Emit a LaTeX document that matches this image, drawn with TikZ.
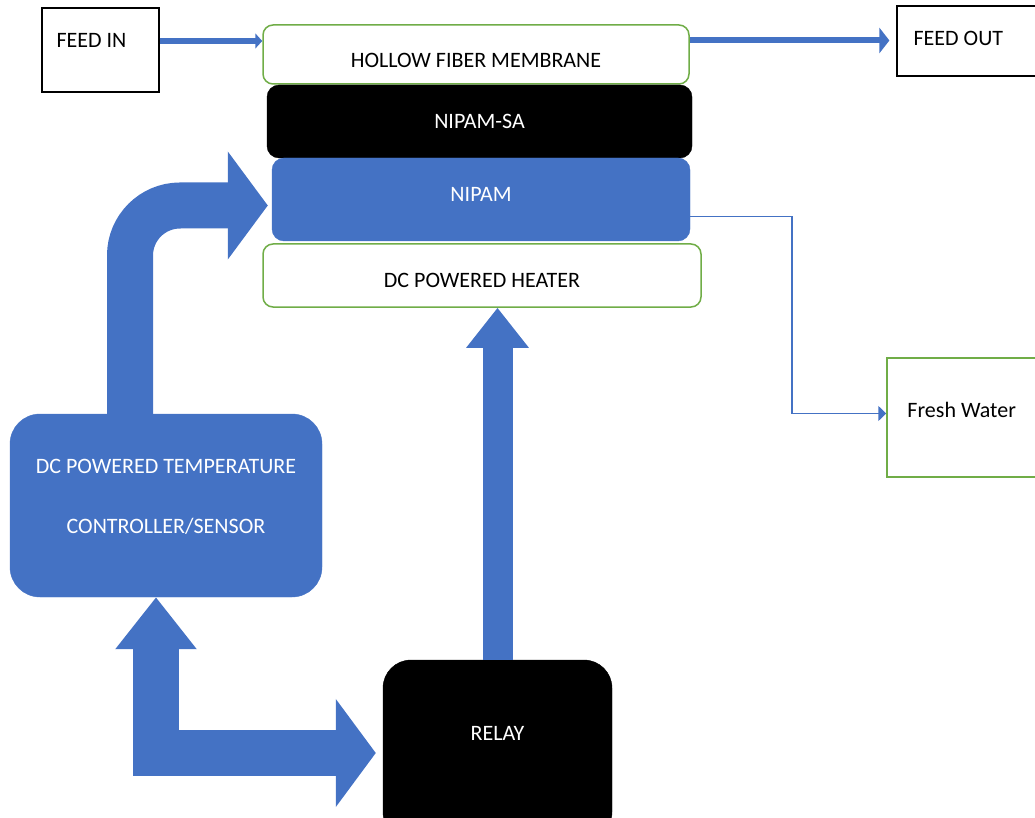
\documentclass[tikz,border=0pt]{standalone}
\usepackage{fontspec}
\setmainfont{Carlito}
\usepackage{xcolor}
\usetikzlibrary{arrows.meta,positioning,calc}
\definecolor{offblue}{HTML}{4472C4}
\definecolor{offgreen}{HTML}{70AD47}

\begin{document}
\begin{tikzpicture}[x=1pt,y=-1pt,
  every node/.style={font=\fontsize{22}{26}\selectfont},
  every label/.style={inner sep=0pt},
  greenbox/.style={draw=offgreen,line width=1.5pt,rounded corners=10pt,fill=white},
  blackbox/.style={draw=black,fill=black,rounded corners=12pt,text=white},
  bluebox/.style={draw=offblue,fill=offblue,rounded corners=12pt,text=white},
  plainbox/.style={draw=black,line width=1.2pt},
  feedline/.style={draw=offblue,line width=6pt},
  thinline/.style={draw=offblue,line width=1.6pt,-{Triangle[length=8pt,width=15pt]}},
  blockline/.style={draw=offblue,line width=46pt}]
\path[use as bounding box,clip] (0,0) rectangle (1035,818);
% membrane stack
\node[greenbox,minimum width=426pt,minimum height=59pt,text height=26pt] (hfm) at (476,54.5) {HOLLOW FIBER MEMBRANE};
\node[blackbox,minimum width=425pt,minimum height=73pt] (nipamsa) at (479.5,121.5) {NIPAM-SA};
\node[bluebox,minimum width=418pt,minimum height=83pt,text depth=10pt] (nipam) at (481,199.5) {NIPAM};
\node[greenbox,minimum width=438pt,minimum height=63pt,text height=24pt] (heater) at (482,275.5) {DC POWERED HEATER};
% feed and product boxes
\node[plainbox,minimum width=117pt,minimum height=84pt,
  label={[anchor=west,xshift=15pt,yshift=10pt]west:FEED IN}] (feedin) at (100.5,50) {};
\node[plainbox,minimum width=148pt,minimum height=70pt,
  label={[anchor=west,xshift=17pt,yshift=3pt]west:FEED OUT}] (feedout) at (971,41) {};
\node[draw=offgreen,line width=1.5pt,minimum width=158pt,minimum height=119pt,
  label={[anchor=west,xshift=21pt,yshift=8pt]west:Fresh Water}] (fresh) at (966,417.5) {};
% control loop
\node[bluebox,rounded corners=30pt,minimum width=312pt,minimum height=183pt,
  label={[text=white,align=center,yshift=8.5pt,font=\fontsize{22}{60}\selectfont]center:DC POWERED TEMPERATURE\\CONTROLLER/SENSOR}] (ctrl) at (166,505.5) {};
\node[blackbox,rounded corners=28pt,minimum width=229pt,minimum height=180pt,
  label={[text=white,yshift=17pt]center:RELAY}] (relay) at (497.5,750) {};
% feed flow
\coordinate (fin) at ([yshift=9pt]feedin.east);
\coordinate (fout) at ([yshift=14pt]hfm.east);
\draw[feedline,-{Triangle[length=7pt,width=15pt]}] (fin) -- (fin -| hfm.west);
\draw[feedline,-{Triangle[length=10pt,width=25pt]}] (fout) -- ($(fout -| feedout.west)+(-7,0)$);
% fresh water out
\coordinate (fbend) at (792,300);
\draw[thinline] ([yshift=-17pt]nipam.east) -| (fbend) |- ([yshift=4pt]fresh.west);
% block arrows
\draw[blockline,rounded corners=50pt,-{Triangle[length=40pt,width=106pt]}]
  ([xshift=-36pt]ctrl.north) |- ([xshift=-4pt,yshift=-6pt]nipam.west);
\draw[draw=offblue,line width=30pt,-{Triangle[length=40pt,width=60pt]}] (relay.north) -- (relay.north |- heater.south);
\draw[blockline,{Triangle[length=52pt,width=78pt]}-{Triangle[length=40pt,width=106pt]}]
  ([xshift=-10pt]ctrl.south) |- ([xshift=-7pt,yshift=-3pt]relay.west);
\end{tikzpicture}
\end{document}
